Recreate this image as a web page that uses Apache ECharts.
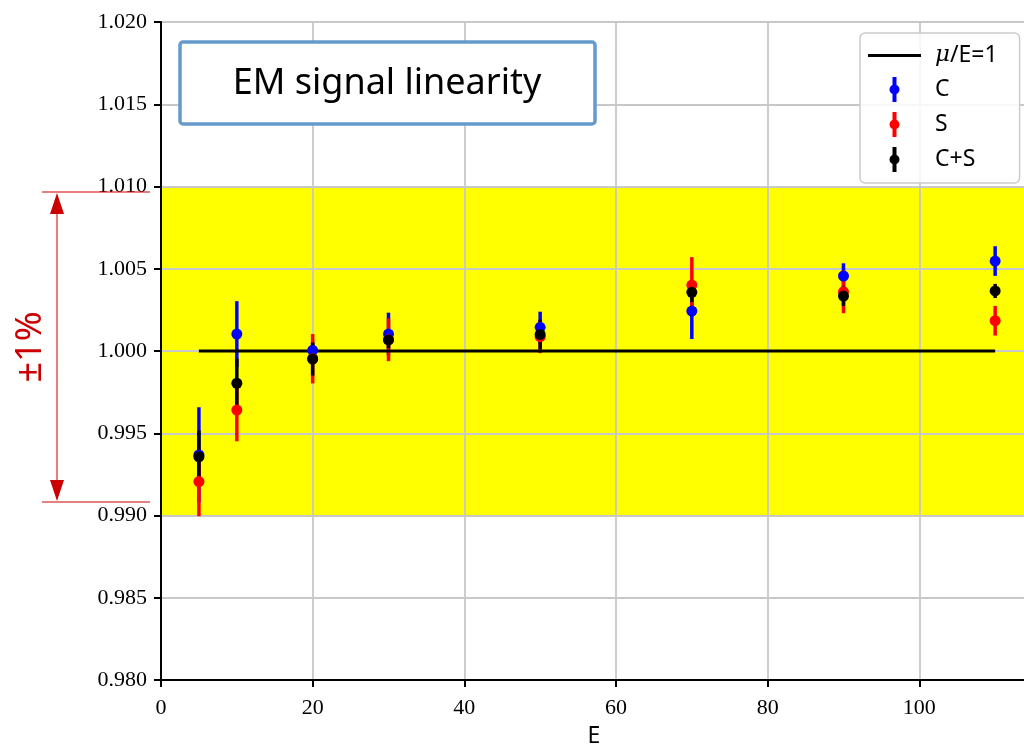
<!DOCTYPE html>
<html>
<head>
<meta charset="utf-8">
<script src="https://cdn.jsdelivr.net/npm/echarts@6/dist/echarts.min.js"></script>
<style>html,body{margin:0;padding:0;background:#fff;}#c{width:1024px;height:747px;}</style>
</head>
<body>
<div id="c"></div>
<script>
// ---- data ----
const energies = [5, 10, 20, 30, 50, 70, 90, 110];
const cVals  = [0.99368, 1.00103, 1.00004, 1.00103, 1.00144, 1.00243, 1.00456, 1.00547];
const cErr   = [0.0029, 0.0020, 0.0005, 0.0013, 0.00095, 0.0017, 0.00077, 0.0009];
const sVals  = [0.99206, 0.99641, 0.99953, 1.00068, 1.00087, 1.00401, 1.00360, 1.00184];
const sErr   = [0.0021, 0.0019, 0.0015, 0.0013, 0.0010, 0.0017, 0.0013, 0.0009];
const csVals = [0.99357, 0.99804, 0.99951, 1.00067, 1.00101, 1.00357, 1.00334, 1.00365];
const csErr  = [0.0016, 0.0015, 0.0010, 0.0005, 0.0009, 0.0006, 0.0006, 0.00043];
const refLine = [[5, 1.0], [110, 1.0]];
const band = [0.99, 1.01];
const xTicks = {min: 0, max: 114.2, interval: 20};
const yTicks = {min: 0.98, max: 1.02, interval: 0.005};

const rows = (vals, errs) => energies.map((e, i) => [e, vals[i], errs[i]]);

const linePath = 'path://M0,0H53V3H0Z';
const markerPath = 'path://M8,0h4v25h-4z M5,12.5a5,5 0 1,1 10,0a5,5 0 1,1 -10,0z';

function errSeries(name, vals, errs, color) {
  return {
    name: name, type: 'custom', z: 2, itemStyle: {color: color},
    data: rows(vals, errs), encode: {x: 0, y: 1},
    renderItem: function (params, api) {
      const x = api.value(0), v = api.value(1), e = api.value(2);
      const p1 = api.coord([x, v + e]), p2 = api.coord([x, v - e]);
      return {type: 'line', shape: {x1: p1[0], y1: p1[1], x2: p2[0], y2: p2[1]},
              style: {stroke: color, lineWidth: 3.5}};
    }
  };
}
function markSeries(name, vals, color) {
  return {
    name: name, type: 'scatter', z: 4, symbol: 'circle', symbolSize: 11,
    itemStyle: {color: color, opacity: 1},
    data: energies.map((e, i) => [e, vals[i]])
  };
}

const chart = echarts.init(document.getElementById('c'), null, {renderer: 'canvas'});
const axisCommon = {
  z: 1,
  axisLine: {show: true, onZero: false, lineStyle: {color: '#000', width: 2}},
  axisTick: {show: true, inside: false, length: 7, lineStyle: {color: '#000', width: 2}},
  splitLine: {show: true, lineStyle: {color: '#c8c8c8', width: 1.8}},
};
chart.setOption({
  animation: false,
  backgroundColor: '#fff',
  grid: {left: 161, right: -3, top: 22, bottom: 67, containLabel: false, outerBoundsMode: 'none',
         show: true, borderColor: '#000', borderWidth: 2, backgroundColor: 'transparent'},
  xAxis: Object.assign({}, axisCommon, {
    type: 'value', min: xTicks.min, max: xTicks.max, interval: xTicks.interval,
    name: 'E', nameLocation: 'middle', nameGap: 45,
    nameTextStyle: {fontFamily: 'Noto Sans', fontSize: 23, color: '#000'},
    axisLabel: {showMaxLabel: false, margin: 17, fontFamily: 'Liberation Serif', fontSize: 22, color: '#000'}
  }),
  yAxis: Object.assign({}, axisCommon, {
    type: 'value', min: yTicks.min, max: yTicks.max, interval: yTicks.interval,
    axisLabel: {margin: 14, fontFamily: 'Liberation Serif', fontSize: 22, color: '#000',
                formatter: v => v.toFixed(3)}
  }),
  legend: {
    orient: 'vertical', left: 860, top: 33, itemWidth: 53, itemHeight: 25, itemGap: 10,
    padding: [11, 22, 11, 8],
    backgroundColor: 'rgba(255,255,255,0.85)', borderColor: '#cccccc', borderWidth: 1.5, borderRadius: 5,
    selectedMode: false,
    textStyle: {fontFamily: 'Noto Sans', fontSize: 23, color: '#000', padding: [0, 0, 0, 9],
      rich: {i: {fontFamily: 'DejaVu Serif', fontStyle: 'italic', fontSize: 23, color: '#000'}}},
    formatter: n => n === 'μ/E=1' ? '{i|μ}/E=1' : n,
    data: [
      {name: 'μ/E=1', icon: linePath},
      {name: 'C', icon: markerPath},
      {name: 'S', icon: markerPath},
      {name: 'C+S', icon: markerPath}
    ]
  },
  graphic: [
    {type: 'rect', z: 100, shape: {x: 180, y: 42, width: 415, height: 82, r: 3},
     style: {fill: '#fff', stroke: '#6699cc', lineWidth: 3.5}},
    {type: 'text', z: 101, x: 387, y: 84,
     style: {text: 'EM signal linearity', fontFamily: 'Noto Sans', fontSize: 36, fill: '#000',
             align: 'center', verticalAlign: 'middle'}},
    {type: 'line', z: 100, shape: {x1: 42, y1: 192, x2: 150, y2: 192}, style: {stroke: '#cc0000', lineWidth: 1}},
    {type: 'line', z: 100, shape: {x1: 42, y1: 502, x2: 150, y2: 502}, style: {stroke: '#cc0000', lineWidth: 1}},
    {type: 'line', z: 100, shape: {x1: 57, y1: 210, x2: 57, y2: 484}, style: {stroke: '#cc0000', lineWidth: 1}},
    {type: 'polygon', z: 100, shape: {points: [[57, 193], [50, 214], [64, 214]]}, style: {fill: '#cc0000'}},
    {type: 'polygon', z: 100, shape: {points: [[57, 501], [50, 480], [64, 480]]}, style: {fill: '#cc0000'}},
    {type: 'text', z: 100, x: 31, y: 347, rotation: Math.PI / 2,
     style: {text: '±1%', fontFamily: 'Noto Sans', fontSize: 36, fill: '#cc0000',
             align: 'center', verticalAlign: 'middle'}}
  ],
  series: [
    {
      name: 'band', type: 'custom', z: 0, silent: true, data: [band], encode: {y: [0, 1]},
      renderItem: function (params, api) {
        const cs = params.coordSys;
        const yTop = api.coord([0, api.value(1)])[1];
        const yBot = api.coord([0, api.value(0)])[1];
        return {type: 'rect', shape: {x: cs.x, y: yTop, width: cs.width, height: yBot - yTop},
                style: {fill: '#ffff00'}};
      }
    },
    errSeries('C', cVals, cErr, '#0000ff'),
    errSeries('S', sVals, sErr, '#ff0000'),
    errSeries('C+S', csVals, csErr, '#000000'),
    {name: 'μ/E=1', type: 'line', z: 3, data: refLine, symbol: 'none', itemStyle: {color: '#000'},
     lineStyle: {color: '#000', width: 3}},
    markSeries('C', cVals, '#0000ff'),
    markSeries('S', sVals, '#ff0000'),
    markSeries('C+S', csVals, '#000000')
  ]
});
</script>
</body>
</html>
